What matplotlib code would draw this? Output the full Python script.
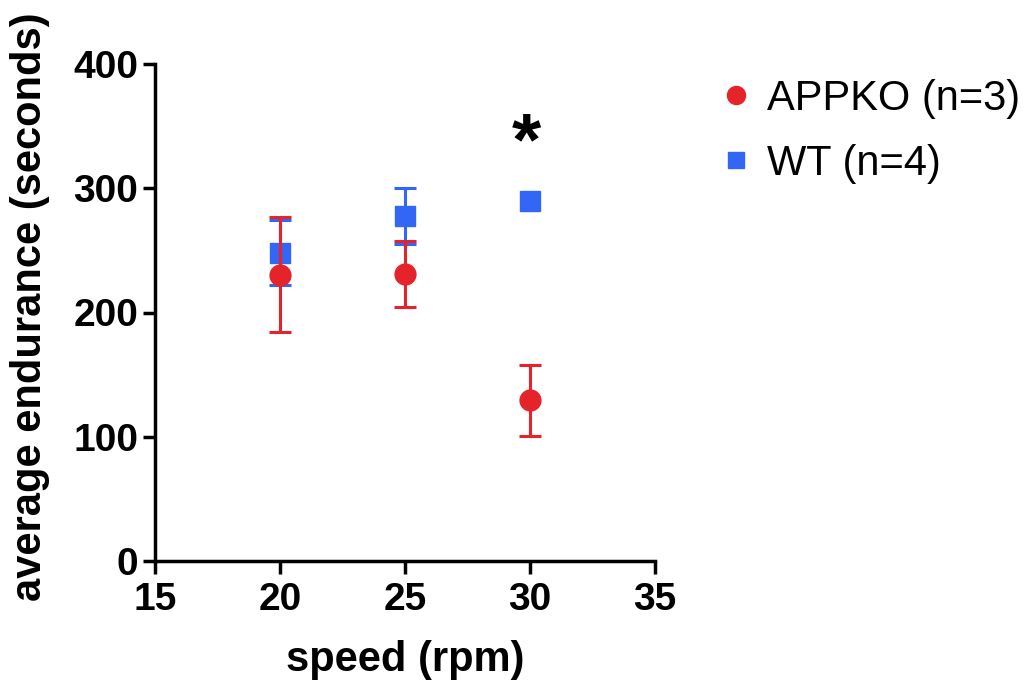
import matplotlib
matplotlib.use("Agg")
import matplotlib.pyplot as plt
from matplotlib.lines import Line2D

plt.rcParams['font.family'] = ['Liberation Sans', 'DejaVu Sans']

speed = [20, 25, 30]
appko_mean = [230.5, 231.1, 129.3]
appko_err = [46.5, 26.5, 28.3]
wt_mean = [248.0, 277.4, 289.4]
wt_err = [26.1, 22.5, float('nan')]
labels = ["APPKO (n=3)", "WT (n=4)"]
sig_x = 29.85
sig_y = 335

red = "#E4232B"
blue = "#3466F5"

fig = plt.figure(figsize=(10.32, 6.8), dpi=100)
ax = fig.add_axes([155/1032, 1 - 561/680, 500/1032, 497/680])

ax.errorbar(speed, wt_mean, yerr=wt_err, fmt='s', color=blue, ms=14,
            elinewidth=2.2, capsize=8, capthick=2.2, zorder=3)
ax.errorbar(speed, appko_mean, yerr=appko_err, fmt='o', color=red, ms=15,
            elinewidth=2.2, capsize=8, capthick=2.2, zorder=4)

ax.text(sig_x, sig_y, "*", ha='center', va='center', fontsize=54,
        fontweight='bold', color='black')

ax.set_xlim(15, 35)
ax.set_ylim(0, 400)
ax.set_xticks([15, 20, 25, 30, 35])
ax.set_yticks([0, 100, 200, 300, 400])
for s in ['top', 'right']:
    ax.spines[s].set_visible(False)
for s in ['left', 'bottom']:
    ax.spines[s].set_linewidth(2.5)
ax.tick_params(axis='both', width=2.5, length=9, labelsize=28)
ax.tick_params(axis='x', pad=6)
ax.tick_params(axis='y', pad=3)
for lab in ax.get_xticklabels() + ax.get_yticklabels():
    lab.set_fontweight('bold')

ax.set_xlabel("speed (rpm)", fontsize=30, fontweight='bold', labelpad=16)
ax.set_ylabel("average endurance (seconds)", fontsize=30, fontweight='bold')
ax.yaxis.set_label_coords(-0.21, 0.512)

handles = [Line2D([], [], ls='none', marker='o', color=red, ms=13),
           Line2D([], [], ls='none', marker='s', color=blue, ms=12)]
fig.legend(handles, labels, loc='upper left', bbox_to_anchor=(698/1032, 1 - 62/680),
           frameon=False, fontsize=30, handletextpad=0.25, labelspacing=0.6,
           handlelength=1.0, borderaxespad=0)

fig.savefig("out.png", dpi=100)
